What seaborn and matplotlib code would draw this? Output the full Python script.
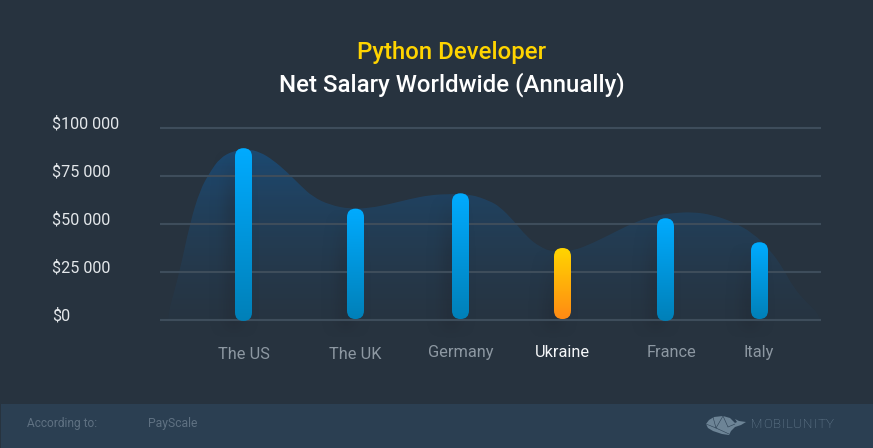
import numpy as np
import pandas as pd
import matplotlib
matplotlib.use("Agg")
import matplotlib.pyplot as plt
import matplotlib.transforms as mtrans
from matplotlib.patches import FancyBboxPatch, PathPatch, Polygon, Rectangle
from matplotlib.path import Path
import seaborn as sns

# data
countries = ["The US", "The UK", "Germany", "Ukraine", "France", "Italy"]
salaries = [89500, 58000, 66000, 37500, 53000, 40500]
bar_bases = [-500, 500, 500, 500, -500, 500]
y_ticks = [0, 25000, 50000, 75000, 100000]
y_labels = ["$0", "$25 000", "$50 000", "$75 000", "$100 000"]

# outline of the soft area behind the bars
curve_x = [168, 170, 180, 190, 200, 210, 220, 233, 247, 260, 273, 287, 300, 313, 330, 350,
           370, 390, 410, 430, 450, 470, 490, 500, 513, 527, 540, 553, 573, 593, 613, 633,
           653, 673, 693, 713, 733, 753, 770, 783, 793, 807, 817, 820]
curve_y = [0, 6770, 26040, 50520, 67700, 77080, 84375, 88020, 89060, 87500, 83330, 77080,
           70310, 64060, 59900, 57810, 58330, 60420, 63020, 65100, 65600, 65600, 61980,
           58850, 52080, 43230, 38020, 35420, 35940, 40100, 45310, 50520, 54170, 55730,
           56250, 54690, 51040, 45310, 36460, 27080, 17190, 8850, 4170, 0]

# layout, all in pixels of the 873x448 picture
bar_x = [243.5, 355.5, 460.5, 562.5, 665.5, 759.5]
label_x = [243.5, 355.5, 460.5, 562.5, 671, 759]
label_pads = [7, 7, 5, 5, 5, 5]
W, H = 873, 448
AX_L, AX_R, AX_T, AX_B = 160, 821, 100, 340
PX_ZERO, PX_PER_K = 320, 1.92
Y_PX = 1000 / PX_PER_K  # dollars per pixel

BG = "#27333f"
FOOT = "#2b3f52"
BLUE = ("#00abff", "#0080b8")
ORANGE = ("#ffd600", "#ff8a14")

sns.set_theme(style="dark")
plt.rcParams["font.family"] = ["Roboto", "DejaVu Sans"]

fig = plt.figure(figsize=(W / 100, H / 100), dpi=100, facecolor=BG)

# ---- background layer in pixel coordinates: footer, logo
bg = fig.add_axes([0, 0, 1, 1], zorder=0)
bg.set_xlim(0, W)
bg.set_ylim(H, 0)
bg.axis("off")
bg.add_patch(Rectangle((1, 404), W, 44, fc=FOOT, ec="none"))

# ---- chart layer
ax = fig.add_axes([AX_L / W, 1 - AX_B / H, (AX_R - AX_L) / W, (AX_B - AX_T) / H], zorder=1)
ax.patch.set_alpha(0)

df = pd.DataFrame({"x": bar_x, "salary": salaries})
sns.barplot(data=df, x="x", y="salary", native_scale=True, width=17 / 94, errorbar=None, ax=ax)
bar_patches = list(ax.patches)

xlim = (AX_L, AX_R)
ylim = ((PX_ZERO - AX_B) * Y_PX, (PX_ZERO - AX_T) * Y_PX)


def gradient(top, bottom, n=256):
    # vertical RGBA ramp from top colour to bottom colour
    c0 = np.array(matplotlib.colors.to_rgba(top))
    c1 = np.array(matplotlib.colors.to_rgba(bottom))
    t = np.linspace(0, 1, n)[:, None, None]
    return c0 * (1 - t) + c1 * t


# area behind the bars, smoothed through midpoints
pts = list(zip(curve_x, curve_y))
verts = [(curve_x[0], 0), pts[1]]
codes = [Path.MOVETO, Path.LINETO]
for a, b in zip(pts[1:-1], pts[2:]):
    verts += [a, ((a[0] + b[0]) / 2, (a[1] + b[1]) / 2)]
    codes += [Path.CURVE3, Path.CURVE3]
verts += [pts[-1], pts[0]]
codes += [Path.LINETO, Path.LINETO]
area_patch = PathPatch(Path(verts, codes), fc="none", ec="none", transform=ax.transData)
ax.add_patch(area_patch)
area_img = ax.imshow(gradient((0.11, 0.29, 0.45, 1.0), (0.14, 0.25, 0.35, 0.1)), aspect="auto",
                     extent=(AX_L, AX_R, 0, 90000), zorder=1, interpolation="bilinear")
area_img.set_clip_path(area_patch)

# blurred shadows, offset to the left of every bar
for cx, val in zip(bar_x, salaries):
    top_px = PX_ZERO - val * PX_PER_K / 1000
    xs = np.linspace(-40, 20, 60)
    ys = np.linspace(top_px, 340, 120)
    ax_prof = np.exp(-((xs + 10) / 12) ** 2)
    rise = np.clip((ys - top_px) / 60, 0, 1)
    fall = np.clip((338 - ys) / 18, 0, 1)
    alpha = 0.33 * rise[:, None] * fall[:, None] * ax_prof[None, :]
    rgba = np.zeros(alpha.shape + (4,))
    rgba[..., :3] = matplotlib.colors.to_rgb("#1f2630")
    rgba[..., 3] = alpha
    ax.imshow(rgba, aspect="auto", zorder=1.5, interpolation="bilinear",
              extent=(cx - 40, cx + 20, (PX_ZERO - 340) * Y_PX, val))

# rounded bars with a gradient, taken from the seaborn bars
for p, name, base in zip(bar_patches, countries, bar_bases):
    x0, w, h = p.get_x(), p.get_width(), p.get_height()
    p.set_visible(False)
    box = FancyBboxPatch((x0, base), w, h - base,
                         boxstyle=f"round,pad=0,rounding_size={w / 2}",
                         mutation_aspect=Y_PX, fc="none", ec="none", zorder=3)
    ax.add_patch(box)
    colours = ORANGE if name == "Ukraine" else BLUE
    img = ax.imshow(gradient(*colours), aspect="auto", zorder=3, interpolation="bilinear",
                    extent=(x0, x0 + w, base, h))
    img.set_clip_path(box)

ax.set_xlim(*xlim)
ax.set_ylim(*ylim)
for s in ax.spines.values():
    s.set_visible(False)
ax.set_xlabel("")
ax.set_ylabel("")

ax.set_yticks(y_ticks)
ax.set_yticklabels(y_labels)
ax.set_xticks(label_x)
ax.set_xticklabels(countries)
ax.set_axisbelow(False)
ax.grid(axis="y", color="#3e4d5b", lw=1.5)
ax.grid(axis="x", visible=False)
ax.tick_params(axis="y", length=0, pad=(AX_L - 52) * 0.72, labelsize=11.6, labelcolor="#e3e7ea")
ax.tick_params(axis="x", length=0, labelsize=11.8, labelcolor="#8d98a2")

shift = mtrans.ScaledTranslation(0, 5.5 / 100, fig.dpi_scale_trans)
for lab in ax.get_yticklabels():
    lab.set_ha("left")
    lab.set_transform(lab.get_transform() + shift)

for tick, pad, name in zip(ax.xaxis.get_major_ticks(), label_pads, countries):
    tick.set_pad(pad * 0.72)
    if name == "Ukraine":
        tick.label1.set_color("#f4f6f8")

# ---- titles and footer text
fg = fig.add_axes([0, 0, 1, 1], zorder=2)
fg.set_xlim(0, W)
fg.set_ylim(H, 0)
fg.axis("off")
fg.text(451.5, 53, "Python Developer", color="#ffd400", fontsize=17.25, fontweight="medium",
        ha="center", va="center")
fg.text(451.5, 85, "Net Salary Worldwide (Annually)", color="#ffffff", fontsize=17.25,
        fontweight="medium", ha="center", va="center")
fg.text(27, 424, "According to:", color="#5f7182", fontsize=8.6, va="center")
fg.text(148, 424, "PayScale", color="#5f7182", fontsize=8.7, va="center")

# logo: whale and letter-spaced word
whale = "#6d8496"
fg.add_patch(Polygon([(706, 424), (709, 420), (714, 417), (723, 416), (730, 418), (735, 423),
                      (737, 422), (735, 419), (739, 421), (746, 422), (741, 425), (735, 427),
                      (731, 431), (729, 435), (722, 434), (713, 431), (708, 428)],
                     closed=True, fc=whale, ec="none"))
for a, b in [((713, 417), (716, 428)), ((716, 428), (729, 434)), ((723, 416), (716, 428)),
             ((723, 416), (728, 427)), ((706, 424), (716, 428)), ((728, 427), (735, 424))]:
    fg.plot([a[0], b[0]], [a[1], b[1]], color=FOOT, lw=0.4)

renderer = fig.canvas.get_renderer()
cur = 750.5
for ch in "MOBILUNITY":
    t = fg.text(cur, 425, ch, color="#70879a", fontsize=9.6, fontweight="light", va="center")
    cur += t.get_window_extent(renderer).width + 0.8

fig.savefig("out.png", dpi=100, facecolor=BG)
